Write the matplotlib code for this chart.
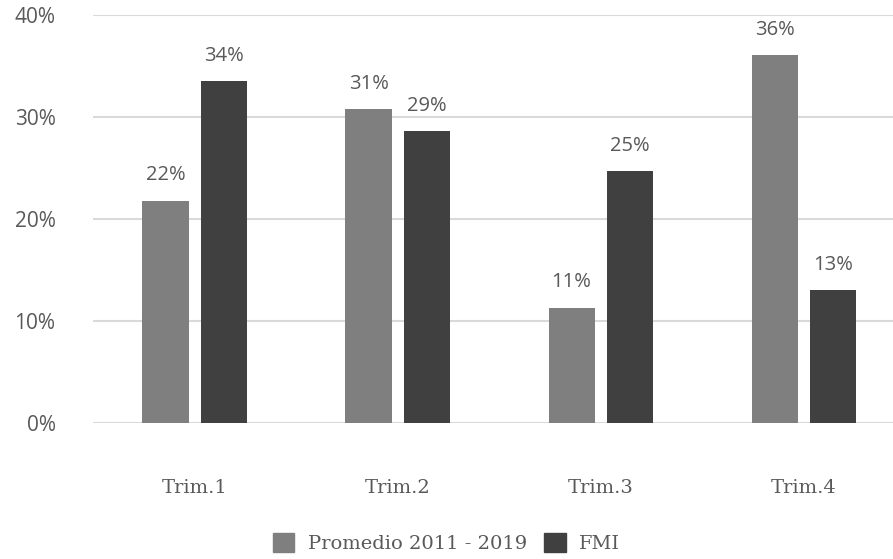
import numpy as np
import matplotlib
matplotlib.use('Agg')
import matplotlib.pyplot as plt
import matplotlib.transforms as mtransforms
from matplotlib.patches import Patch

categories = ['Trim.1', 'Trim.2', 'Trim.3', 'Trim.4']
promedio = [21.8, 30.8, 11.3, 36.1]
fmi = [33.5, 28.6, 24.7, 13.0]
series_names = ['Promedio 2011 - 2019', 'FMI']

C_PROM = '#7f7f7f'
C_FMI = '#404040'
TXT = '#595959'

fig = plt.figure(figsize=(8.93, 5.59), dpi=100)
ax = fig.add_axes([93 / 893, 1 - 423 / 559, 800 / 893, (423 - 15) / 559])

x = np.arange(len(categories))
w = 0.227
off = 0.143
b1 = ax.bar(x - off, promedio, w, color=C_PROM, zorder=3)
b2 = ax.bar(x + off, fmi, w, color=C_FMI, zorder=3)

for bars, vals in ((b1, promedio), (b2, fmi)):
    for r, v in zip(bars, vals):
        ax.annotate(f"{v:.0f}%", (r.get_x() + r.get_width() / 2, v),
                    xytext=(0, 11), textcoords='offset points',
                    ha='center', va='bottom', fontsize=14.5, color=TXT,
                    family='Open Sans')

ax.set_xlim(-0.5, 3.44)
ax.set_ylim(0, 40)
ax.set_yticks([0, 10, 20, 30, 40])
ax.set_yticklabels([f"{v}%" for v in [0, 10, 20, 30, 40]],
                   fontsize=15, color=TXT, family='Open Sans')
# labels sit a little below their gridline in the original
shift = mtransforms.ScaledTranslation(0, -5 / 72, fig.dpi_scale_trans)
for t in ax.get_yticklabels():
    t.set_transform(t.get_transform() + shift)
ax.set_xticks(x)
ax.set_xticklabels(categories, fontsize=14, color=TXT, family='DejaVu Serif')
ax.tick_params(length=0)
ax.tick_params(axis='x', pad=40)
ax.tick_params(axis='y', pad=27)
ax.grid(axis='y', color='#d9d9d9', lw=1.5, zorder=0)
for sp in ax.spines.values():
    sp.set_visible(False)

handles = [Patch(color=C_PROM), Patch(color=C_FMI)]
fig.legend(handles, series_names, loc='center', bbox_to_anchor=(0.5, 1 - 543 / 559),
           ncol=2, frameon=False, handlelength=1.1, handleheight=1.1,
           prop={'family': 'DejaVu Serif', 'size': 14}, labelcolor=TXT,
           columnspacing=0.9, handletextpad=0.7)

fig.savefig('out.png', dpi=100)
